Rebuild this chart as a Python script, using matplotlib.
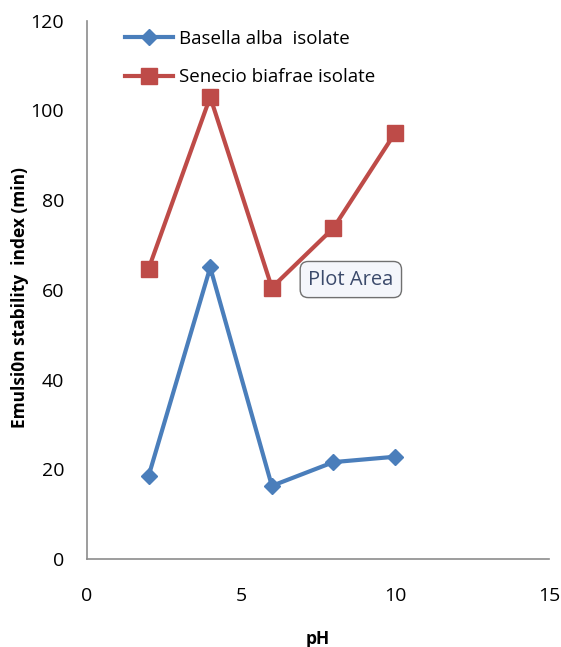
import numpy as np
import matplotlib.pyplot as plt

# emulsion stability vs pH for the two isolates
ph = [2, 4, 6, 8, 10]
basella = [18.5, 65.0, 16.3, 21.6, 22.8]
senecio = [64.7, 103.0, 60.5, 73.8, 95.0]

plt.rcParams['font.family'] = ['Open Sans', 'DejaVu Sans']

fig = plt.figure(figsize=(5.61, 6.47), dpi=100)
ax = fig.add_axes([0.155, 0.136, 0.824, 0.832])

ax.plot(ph, basella, color='#4A7EBB', lw=3, marker='D', ms=8,
        label='Basella alba  isolate')
ax.plot(ph, senecio, color='#BE4B48', lw=3, marker='s', ms=11,
        label='Senecio biafrae isolate')

ax.set_xlim(0, 15)
ax.set_ylim(0, 120)
ax.set_xticks([0, 5, 10, 15])
ax.set_yticks(np.arange(0, 121, 20))
ax.tick_params(length=0, labelsize=14)
ax.tick_params(axis='y', pad=16.5)
ax.tick_params(axis='x', pad=20)
for s in ['top', 'right']:
    ax.spines[s].set_visible(False)
for s in ['left', 'bottom']:
    ax.spines[s].set_color('#8c8c8c')
    ax.spines[s].set_linewidth(1.2)

ax.set_ylabel('Emulsi0n stability  index (min)', fontsize=12.5,
              fontweight='bold')
ax.yaxis.set_label_coords(-0.125, 0.485)
ax.set_xlabel('pH', fontsize=12.5, fontweight='bold')
ax.xaxis.set_label_coords(0.5, -0.132)

ax.legend(loc='upper left', bbox_to_anchor=(0.045, 1.015), frameon=False,
          fontsize=13.5, handlelength=2.6, labelspacing=1.1, handletextpad=0.3)

# hover tip left on the plot area
ax.text(7.18, 62.3, 'Plot Area', fontsize=14.5, color='#3b4a6b', va='center',
        bbox=dict(boxstyle='round,pad=0.4', fc='#f4f6fb', ec='#707070', lw=1))

fig.savefig('out.png', dpi=100)
